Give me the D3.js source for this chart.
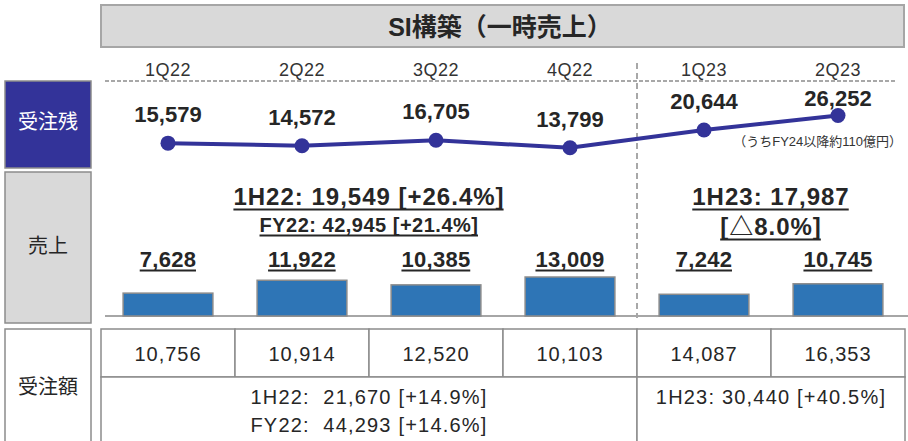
<!DOCTYPE html>
<html>
<head>
<meta charset="utf-8">
<script src="https://cdn.jsdelivr.net/npm/d3@7"></script>
<style>
  body { margin: 0; background: #fff; }
  svg { display: block; font-family: "Liberation Sans", Arial, "Noto Sans CJK JP", sans-serif; }
  text { white-space: pre; }
</style>
</head>
<body>
<svg id="chart" width="908" height="441"></svg>
<script>
// SI構築（一時売上） quarterly figures
const title = "SI構築（一時売上）";
const quarters = ["1Q22", "2Q22", "3Q22", "4Q22", "1Q23", "2Q23"];
const backlog = [15579, 14572, 16705, 13799, 20644, 26252];
const sales = [7628, 11922, 10385, 13009, 7242, 10745];
const orders = [10756, 10914, 12520, 10103, 14087, 16353];
const rowLabels = ["受注残", "売上", "受注額"];
const backlogNote = "（うちFY24以降約110億円）";
// half-year groups: first and last quarter index
const periods = [[0, 3], [4, 5]];
const salesSummary = [["1H22: 19,549 [+26.4%]", "FY22: 42,945 [+21.4%]"], ["1H23: 17,987", "[△8.0%]"]];
const ordersSummary = [["1H22:  21,670 [+14.9%]", "FY22:  44,293 [+14.6%]"], ["1H23: 30,440 [+40.5%]"]];

const svg = d3.select("#chart");
const ink = "#262626";
const fmt = d3.format(",");

const x = d3.scaleBand().domain(quarters).range([101, 905])
    .paddingInner(0.33).paddingOuter(0.165);
const cx = q => x(q) + x.bandwidth() / 2;
const cellL = i => x.range()[0] + i * x.step();
const spanMid = p => (cellL(p[0]) + cellL(p[1] + 1)) / 2;

const yLine = d3.scaleLinear().domain([0, d3.max(backlog)]).range([183.5, 115.5]);
const yBar = d3.scaleLinear().domain([0, d3.max(sales)]).range([316, 277]);

function underline(sel, gap, w) {
    sel.each(function () {
        const b = this.getBBox();
        const ls = parseFloat(this.getAttribute("letter-spacing") || 0);
        const y = +this.getAttribute("y") + gap;
        svg.append("line")
            .attr("x1", b.x).attr("x2", b.x + b.width - ls)
            .attr("y1", y).attr("y2", y)
            .attr("stroke", ink).attr("stroke-width", w);
    });
}

// title box
svg.append("rect").attr("x", 101).attr("y", 5).attr("width", 803).attr("height", 42)
    .attr("fill", "#d9d9d9").attr("stroke", "#a6a6a6").attr("stroke-width", 2);
svg.append("text").attr("x", 500).attr("y", 36).attr("text-anchor", "middle")
    .attr("font-size", 25).attr("font-weight", "bold").attr("fill", ink).text(title);

// row label boxes
const boxes = [[81, 87, "#333399", "#fff"], [172, 151, "#d9d9d9", ink], [329, 120, "#fff", ink]];
const labelY = [129, 253, 394];
boxes.forEach((b, i) => {
    svg.append("rect").attr("x", 5).attr("y", b[0]).attr("width", 86).attr("height", b[1])
        .attr("fill", b[2]).attr("stroke", "#8c8c8c").attr("stroke-width", 1.5);
    svg.append("text").attr("x", 48).attr("y", labelY[i]).attr("text-anchor", "middle")
        .attr("font-size", 20).attr("fill", b[3]).text(rowLabels[i]);
});

// quarter header
svg.append("g").selectAll("text").data(quarters).join("text")
    .attr("x", d => cx(d)).attr("y", 76).attr("text-anchor", "middle")
    .attr("font-size", 18).attr("letter-spacing", 0.5).attr("fill", "#333").text(d => d);
svg.append("line").attr("x1", 105).attr("x2", 897).attr("y1", 81).attr("y2", 81)
    .attr("stroke", "#8c8c8c").attr("stroke-width", 1.5).attr("stroke-dasharray", "4,2");
svg.append("line").attr("x1", cellL(4)).attr("x2", cellL(4)).attr("y1", 63).attr("y2", 318)
    .attr("stroke", "#8c8c8c").attr("stroke-width", 1.5).attr("stroke-dasharray", "6,4");

// backlog line
svg.append("path").datum(backlog)
    .attr("d", d3.line().x((d, i) => cx(quarters[i])).y(d => yLine(d)))
    .attr("fill", "none").attr("stroke", "#333399").attr("stroke-width", 4);
svg.append("g").selectAll("circle").data(backlog).join("circle")
    .attr("cx", (d, i) => cx(quarters[i])).attr("cy", d => yLine(d)).attr("r", 7.5)
    .attr("fill", "#333399");
svg.append("g").selectAll("text").data(backlog).join("text")
    .attr("x", (d, i) => cx(quarters[i])).attr("y", d => Math.max(yLine(d) - 21, 106))
    .attr("text-anchor", "middle").attr("font-size", 22).attr("font-weight", "bold")
    .attr("fill", ink).text(d => fmt(d));
svg.append("text").attr("x", 902).attr("y", 146).attr("text-anchor", "end")
    .attr("font-size", 13).attr("fill", "#333").text(backlogNote);

// sales bars
svg.append("line").attr("x1", 105).attr("x2", 908).attr("y1", 316).attr("y2", 316)
    .attr("stroke", "#a6a6a6").attr("stroke-width", 2);
svg.append("g").selectAll("rect").data(sales).join("rect")
    .attr("x", (d, i) => x(quarters[i])).attr("width", x.bandwidth())
    .attr("y", d => yBar(d)).attr("height", d => yBar(0) - yBar(d))
    .attr("fill", "#2e75b6").attr("stroke", "#8c8c8c").attr("stroke-width", 1.5);
svg.append("g").selectAll("text").data(sales).join("text")
    .attr("x", (d, i) => cx(quarters[i])).attr("y", 267)
    .attr("text-anchor", "middle").attr("font-size", 22).attr("font-weight", "bold")
    .attr("letter-spacing", 0.3).attr("fill", ink).text(d => fmt(d))
    .call(underline, 3.5, 2);

periods.forEach((p, k) => {
    salesSummary[k].forEach((t, j) => {
        const small = t.startsWith("FY");
        svg.append("text").attr("x", spanMid(p)).attr("y", j === 0 ? 205 : (small ? 232 : 235))
            .attr("text-anchor", "middle").attr("font-size", small ? 20 : 24)
            .attr("font-weight", "bold").attr("letter-spacing", small ? 0.5 : 1)
            .attr("fill", ink).text(t)
            .call(underline, small ? 3.5 : 4.5, 2);
    });
});

// orders table
const tb = [329, 377, 445];
svg.append("g").selectAll("rect").data(orders).join("rect")
    .attr("x", (d, i) => cellL(i)).attr("y", tb[0]).attr("width", x.step()).attr("height", tb[1] - tb[0])
    .attr("fill", "#fff").attr("stroke", "#8c8c8c").attr("stroke-width", 1.5);
svg.append("g").selectAll("text").data(orders).join("text")
    .attr("x", (d, i) => cx(quarters[i])).attr("y", 361).attr("text-anchor", "middle")
    .attr("font-size", 20).attr("letter-spacing", 1).attr("fill", ink).text(d => fmt(d));
periods.forEach((p, k) => {
    svg.append("rect").attr("x", cellL(p[0])).attr("y", tb[1])
        .attr("width", cellL(p[1] + 1) - cellL(p[0])).attr("height", tb[2] - tb[1])
        .attr("fill", "#fff").attr("stroke", "#8c8c8c").attr("stroke-width", 1.5);
    ordersSummary[k].forEach((t, j) => {
        svg.append("text").attr("x", spanMid(p)).attr("y", 404 + j * 28)
            .attr("text-anchor", "middle").attr("font-size", 20).attr("letter-spacing", 1.2)
            .attr("fill", ink).text(t);
    });
});
</script>
</body>
</html>
